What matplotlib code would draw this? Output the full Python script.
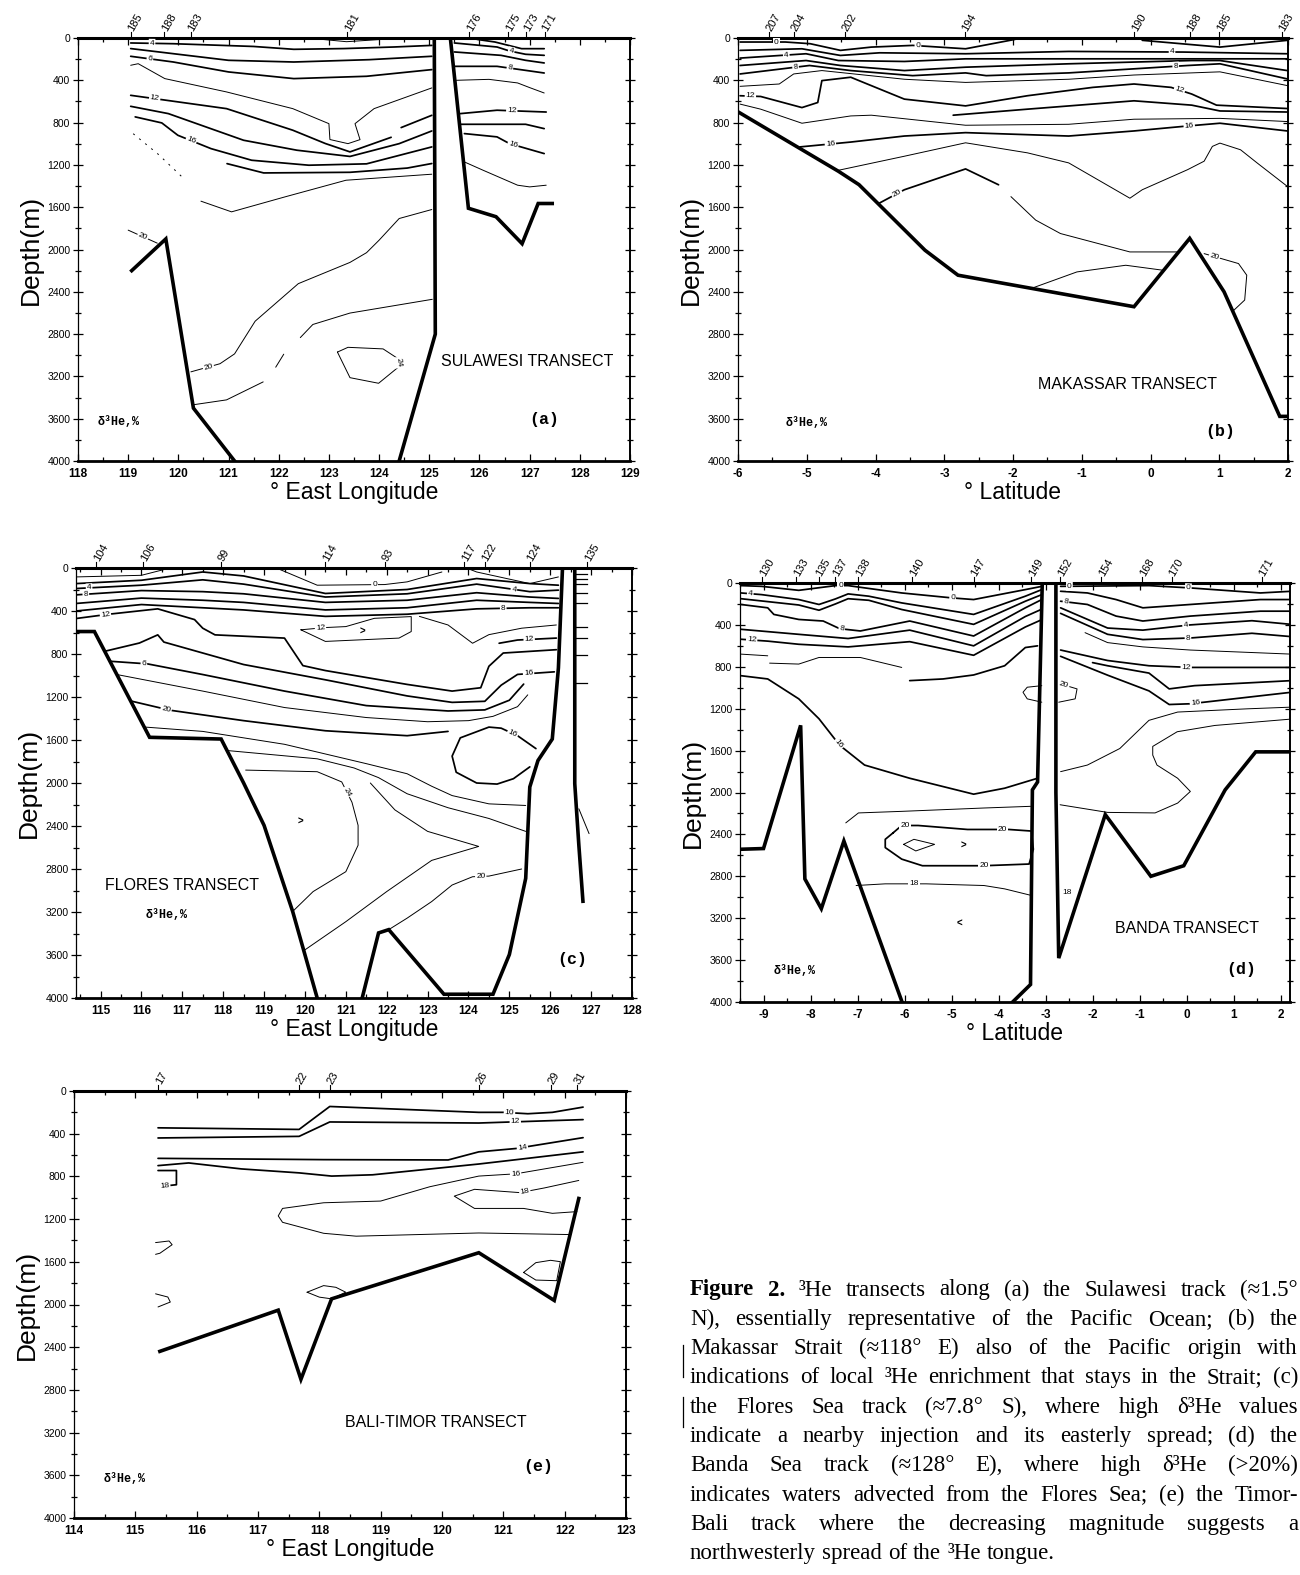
import matplotlib
matplotlib.use("Agg")
import matplotlib.pyplot as plt
import numpy as np
from matplotlib.ticker import MultipleLocator
from matplotlib.lines import Line2D

plt.rcParams['axes.unicode_minus'] = False
plt.rcParams['font.family'] = ['Liberation Sans', 'DejaVu Sans']

# ------------------------------------------------------------------ DATA
# (a) Sulawesi transect  (lon, depth)
a_station_num = [185, 188, 183, 181, 176, 175, 173, 171]
a_station_lon = [119.05, 119.72, 120.25, 123.37, 125.8, 126.57, 126.93, 127.3]
a_bathy = [
    ([119.07, 119.75, 120.3, 121.12], [2200, 1900, 3500, 4000]),
    ([124.4, 125.12, 125.1], [4000, 2800, 0]),
    ([125.42, 125.78, 126.33, 126.85, 127.17, 127.45], [0, 1610, 1690, 1945, 1565, 1565]),
]
a_contours = [
    ("0", [122.75, 123.35, 124.0], [8, 35, 15]),
    ("4", [119.05, 119.9, 121.5, 122.3, 123.3, 124.3, 125.05], [47, 54, 80, 107, 100, 85, 70]),
    ("", [119.05, 121.0, 122.3, 123.8, 125.05], [100, 211, 227, 205, 173]),
    ("6", [119.05, 119.9, 121.0, 122.3, 123.75, 125.05], [173, 227, 321, 384, 362, 299]),
    ("", [119.05, 119.2, 119.73, 120.96, 122.28, 123.0, 123.02, 123.38, 123.62, 123.52, 123.9, 125.05],
     [258, 243, 384, 510, 668, 810, 960, 999, 961, 810, 668, 472]),
    ("12", [119.05, 120.96, 122.28, 122.93, 123.42, 124.24], [542, 668, 872, 998, 1077, 939]),
    ("", [124.44, 125.05], [847, 731]),
    ("", [119.05, 119.8, 121.3, 122.36, 123.42, 124.4, 125.05], [646, 715, 967, 1061, 1120, 999, 879]),
    ("16", [119.14, 119.67, 119.99, 120.65, 121.46, 122.6, 123.75, 125.05], [746, 803, 920, 1046, 1156, 1203, 1190, 1030]),
    ("", [120.97, 121.7, 123.42, 124.56, 125.05], [1188, 1276, 1270, 1230, 1187]),
    ("", [120.45, 121.06, 122.12, 123.34, 125.05], [1543, 1644, 1503, 1345, 1288]),
    ("20", [125.05, 124.4, 124.0, 123.75, 123.42, 122.39, 121.53, 121.12, 120.83, 120.25],
     [1622, 1707, 1912, 2030, 2122, 2323, 2678, 2987, 3080, 3157]),
    ("", [125.06, 123.42, 122.68, 122.43], [2471, 2601, 2709, 2833]),
    ("", [122.1, 121.94], [2990, 3113]),
    ("", [121.69, 120.96, 120.3], [3252, 3422, 3468]),
    ("20", [119.0, 119.58], [1817, 1940]),
    ("24", [123.17, 123.38, 124.08, 124.37, 124.39, 123.99, 123.42, 123.17], [2970, 2925, 2940, 3030, 3110, 3265, 3212, 2970]),
    ("", [125.95, 126.31, 126.84, 127.29], [13, 38, 101, 101]),
    ("4", [125.5, 126.35, 126.6, 126.92, 127.29], [47, 85, 123, 154, 164]),
    ("", [125.5, 126.43, 126.92, 127.29], [132, 164, 211, 236]),
    ("8", [125.5, 126.35, 126.92, 127.29], [268, 268, 306, 331]),
    ("", [125.54, 126.19, 126.76, 127.0, 127.29], [400, 391, 425, 469, 520]),
    ("12", [125.62, 126.35, 127.33], [715, 683, 700]),
    ("", [125.62, 126.92, 127.29], [816, 816, 857]),
    ("16", [125.7, 126.35, 126.6, 127.29], [904, 935, 999, 1093]),
    ("", [125.7, 126.07, 126.76, 127.0, 127.33], [1172, 1250, 1392, 1408, 1392]),
]
a_dashed = ([119.1, 119.6, 119.9, 120.12], [905, 1100, 1235, 1335])

# (b) Makassar transect  (lat, depth)
b_station_num = [207, 204, 202, 194, 190, 188, 185, 183]
b_station_lat = [-5.55, -5.19, -4.45, -2.7, -0.24, 0.57, 1.0, 1.91]
b_bathy = [
    ([-6.0, -4.54, -4.24, -3.28, -2.8, -0.24, 0.57, 1.07, 1.88, 2.0],
     [698, 1260, 1387, 2007, 2243, 2541, 1895, 2400, 3578, 3578]),
]
b_contours = [
    ("0", [-5.97, -5.31, -4.95, -4.51, -4.06, -3.46, -2.69, -1.97], [38, 38, 54, 117, 86, 70, 102, 13]),
    ("", [-0.12, 1.01, 1.99], [22, 86, 22]),
    ("4", [-5.97, -5.07, -4.51, -3.94, -2.69, -1.19, 0.48, 1.99], [117, 102, 165, 140, 149, 127, 133, 149]),
    ("4", [-5.97, -5.01, -4.54, -3.58, -2.69, -1.19, 1.99], [190, 149, 213, 222, 197, 197, 197]),
    ("", [-5.97, -5.01, -4.51, -3.58, -2.69, -1.19, 0.6, 1.01, 1.99], [260, 213, 260, 308, 276, 244, 213, 213, 308]),
    ("8", [-5.97, -4.96, -4.36, -3.46, -2.69, -2.39, -1.19, 0.54, 1.01, 1.99], [340, 260, 308, 356, 330, 356, 330, 260, 244, 387]),
    ("", [-5.97, -5.4, -5.19, -4.78, -3.58, -2.69, -1.19, -0.24, 1.01, 1.99], [457, 435, 340, 308, 390, 420, 390, 350, 320, 450]),
    ("12", [-5.97, -5.67, -5.07, -4.84, -4.78, -4.36, -4.24, -3.58, -2.69, -1.79, -0.84, -0.24, 0.3, 0.6, 0.96, 1.99],
     [546, 553, 658, 610, 403, 371, 403, 578, 642, 546, 467, 435, 467, 530, 635, 667]),
    ("", [-2.87, -1.79, -0.24, 0.6, 1.01, 1.99], [730, 673, 594, 635, 690, 700]),
    ("", [-5.97, -5.67, -5.07, -4.36, -4.06, -2.69, -1.19, -0.24, 1.01, 1.99], [625, 673, 806, 737, 730, 825, 816, 768, 760, 790]),
    ("16", [-5.1, -4.36, -3.58, -2.69, -1.19, -0.24, 0.54, 1.01, 1.99], [1030, 984, 927, 895, 927, 879, 832, 806, 879]),
    ("", [-4.54, -3.58, -2.69, -1.79, -1.19, -0.3, -0.12, 0.54, 0.78, 0.9, 1.01, 1.31, 1.55, 1.99],
     [1251, 1118, 991, 1086, 1181, 1515, 1435, 1245, 1165, 1025, 994, 1057, 1181, 1403]),
    ("20", [-3.94, -3.58, -2.69, -2.21], [1560, 1435, 1238, 1388]),
    ("", [-2.03, -1.67, -1.31, -0.3, 0.39], [1500, 1722, 1849, 2023, 2023]),
    ("20", [0.78, 1.28, 1.4, 1.37, 1.19], [2039, 2133, 2243, 2478, 2588]),
    ("", [-1.7, -1.07, -0.36, 0.18], [2360, 2212, 2149, 2196]),
]

# (c) Flores transect  (lon, depth)
c_station_num = [104, 106, 99, 114, 93, 117, 122, 124, 135]
c_station_lon = [114.9, 116.05, 117.95, 120.5, 121.95, 123.9, 124.4, 125.5, 126.9]
c_bathy = [
    ([114.4, 114.85, 116.2, 117.95, 118.5, 119.0, 119.7, 120.3], [591, 591, 1575, 1591, 2000, 2394, 3195, 4000]),
    ([121.4, 121.8, 122.05, 123.4, 124.6, 125.0, 125.4, 125.5, 125.7, 126.05, 126.2, 126.3],
     [4000, 3395, 3364, 3965, 3965, 3596, 2887, 2037, 1791, 1591, 929, 0]),
    ([126.6, 126.6, 126.7, 126.8], [0, 2006, 2579, 3100]),
]
c_stub_depth = [52, 98, 145, 237, 329, 545, 652, 806, 1068]
c_contours = [
    ("0", [119.3, 120.3, 121.95, 122.5, 123.35], [0, 160, 154, 129, 37]),
    ("", [114.4, 116.0, 116.7], [83, 68, 0]),
    ("", [123.95, 124.2, 125.5, 126.2], [0, 37, 145, 83]),
    ("", [114.4, 116.0, 117.5, 118.5, 120.5, 122.5, 124.2, 125.5, 126.2], [145, 114, 37, 74, 237, 200, 98, 145, 160]),
    ("4", [114.4, 116.0, 117.5, 118.5, 120.5, 122.5, 124.2, 125.5, 126.2], [191, 160, 110, 150, 270, 240, 150, 220, 206]),
    ("8", [114.4, 116.0, 117.5, 118.5, 120.5, 122.5, 124.2, 125.5, 126.2], [250, 210, 220, 240, 320, 300, 230, 270, 283]),
    ("", [114.4, 116.0, 117.5, 118.5, 120.5, 122.5, 124.2, 125.5, 126.2], [330, 280, 300, 320, 390, 370, 300, 320, 330]),
    ("8", [114.4, 116.0, 117.5, 118.5, 120.5, 122.5, 124.2, 125.5, 126.2], [400, 340, 370, 390, 450, 430, 380, 370, 370]),
    ("12", [114.4, 115.2, 116.4, 117.3, 117.5, 117.8, 119.5, 119.95, 120.5, 122.5, 123.6, 124.3, 124.5, 124.85, 126.15],
     [470, 430, 380, 480, 560, 622, 652, 908, 954, 1083, 1145, 1114, 914, 791, 760]),
    ("", [122.8, 123.5, 124.1, 124.5, 125.3, 126.15], [450, 530, 700, 620, 560, 530]),
    ("12", [124.75, 125.2, 126.15], [700, 670, 652]),
    ("12", [119.9, 120.5, 121.0, 121.7, 122.6, 122.6, 122.3, 120.5, 119.9], [575, 554, 545, 468, 452, 591, 652, 683, 575]),
    ("16", [115.1, 115.95, 116.4, 116.55, 118.5, 120.5, 122.5, 123.6, 124.4, 124.8, 125.2, 126.1],
     [775, 698, 622, 689, 898, 1040, 1190, 1250, 1240, 1090, 990, 966]),
    ("6", [115.25, 116.15, 117.5, 119.5, 121.5, 123.5, 124.4, 125.0, 125.35], [868, 892, 991, 1145, 1280, 1330, 1320, 1230, 1080]),
    ("", [115.4, 117.5, 119.5, 121.5, 123.0, 124.0, 124.6, 125.2, 125.45], [991, 1145, 1298, 1391, 1430, 1420, 1380, 1290, 1180]),
    ("20", [115.74, 116.7, 118.5, 120.5, 122.5, 123.5], [1237, 1323, 1420, 1514, 1560, 1520]),
    ("", [116.1, 117.5, 119.5, 121.5, 122.5, 123.1, 123.6, 124.5, 125.4], [1480, 1520, 1640, 1820, 1914, 2030, 2117, 2194, 2209]),
    ("16", [125.65, 125.2, 124.8, 124.5, 123.8, 123.6, 123.7, 124.2, 124.7, 125.1, 125.5],
     [1680, 1560, 1490, 1480, 1580, 1750, 1900, 2000, 2010, 1960, 1850]),
    ("", [118.1, 120.3, 121.2, 121.8, 122.5, 123.5, 124.5, 125.4], [1698, 1775, 1860, 1950, 2100, 2230, 2330, 2450]),
    ("24", [118.55, 120.3, 120.9, 121.15, 121.3, 121.3, 121.0, 120.2, 119.7], [1880, 1895, 1990, 2179, 2394, 2579, 2825, 3010, 3195]),
    ("", [121.6, 122.2, 123.0, 124.25, 123.1, 122.0, 121.0, 119.97], [2000, 2250, 2450, 2590, 2720, 3010, 3290, 3560]),
    ("20", [122.05, 122.5, 123.1, 123.6, 124.1, 124.5, 125.3], [3364, 3257, 3103, 2949, 2872, 2866, 2800]),
    ("", [126.7, 126.95], [2240, 2471]),
]

# (d) Banda transect  (lat, depth)
d_station_num = [130, 133, 135, 137, 138, 140, 147, 149, 152, 154, 168, 170, 171]
d_station_lat = [-9.03, -8.3, -7.82, -7.47, -6.98, -5.84, -4.53, -3.3, -2.69, -1.81, -0.94, -0.32, 1.6]
d_bathy = [
    ([-9.5, -9.0, -8.21, -8.12, -7.77, -7.29, -6.06], [2542, 2535, 1359, 2825, 3109, 2463, 3991]),
    ([-3.7, -3.32, -3.28, -3.17, -3.07], [4000, 3833, 1975, 1900, 0]),
    ([-2.78, -2.78, -2.72, -1.73, -0.76, -0.06, 0.82, 1.47, 2.23], [0, 2000, 3581, 2211, 2800, 2699, 1975, 1612, 1612]),
]
d_contours = [
    ("0", [-9.48, -9.04, -8.25, -7.47, -7.2, -6.06, -5.0, -4.53, -3.43, -3.08], [25, 32, 70, 25, 25, 95, 142, 158, 63, 32]),
    ("4", [-9.48, -9.04, -8.25, -7.82, -7.47, -7.2, -6.76, -6.06, -4.53, -3.43, -3.08], [95, 111, 158, 205, 152, 104, 126, 190, 300, 126, 63]),
    ("", [-9.48, -8.25, -7.82, -7.47, -7.2, -6.76, -6.06, -4.53, -3.43, -3.08], [150, 210, 260, 200, 150, 165, 253, 395, 174, 111]),
    ("8", [-9.48, -8.91, -8.78, -8.25, -7.73, -7.38, -6.94, -5.89, -4.53, -3.43, -3.08], [205, 237, 300, 348, 363, 436, 458, 363, 506, 237, 158]),
    ("", [-9.48, -8.25, -7.2, -5.89, -4.53, -3.43, -3.08], [442, 490, 530, 450, 600, 320, 250]),
    ("12", [-9.48, -8.91, -8.25, -7.2, -5.89, -4.53, -3.43, -3.08], [537, 555, 585, 610, 560, 690, 420, 350]),
    ("", [-9.48, -8.91], [679, 695]),
    ("", [-8.87, -8.25, -7.82, -6.94, -6.06], [765, 774, 711, 711, 806]),
    ("", [-5.89, -5.18, -4.53, -3.87, -3.43, -3.17], [932, 916, 878, 790, 616, 600]),
    ("16", [-9.48, -8.91, -8.25, -7.82, -7.38, -6.85, -5.89, -4.53, -3.87, -3.17], [885, 916, 1106, 1296, 1549, 1738, 1864, 2016, 1959, 1864]),
    ("", [-3.08, -3.39, -3.48, -3.39, -3.08], [980, 995, 1043, 1106, 1138]),
    ("20", [-2.68, -2.33, -2.37, -2.72], [964, 1011, 1106, 1138]),
    ("", [-7.25, -6.98, -6.06, -4.31, -3.32], [2290, 2195, 2180, 2148, 2132]),
    ("", [2.2, 0.6, -0.2, -0.72, -0.72, -0.63, -0.19, 0.08, -0.19, -0.67, -1.68, -2.69],
     [1300, 1360, 1420, 1560, 1643, 1738, 1864, 1990, 2101, 2195, 2190, 2117]),
    ("20", [-6.24, -6.06, -5.71, -4.66, -3.78, -3.3, -3.26, -3.35, -4.31, -5.62, -6.06, -6.41, -6.41, -6.24],
     [2384, 2315, 2315, 2353, 2353, 2368, 2542, 2683, 2699, 2699, 2636, 2526, 2447, 2384]),
    ("", [-6.02, -5.8, -5.36, -5.76, -6.02], [2495, 2447, 2495, 2558, 2495]),
    ("18", [-7.03, -6.41, -5.54, -4.31, -3.87, -3.3], [2888, 2872, 2872, 2888, 2920, 2983]),
    ("0", [-2.68, -0.8, 0.08, 1.57, 2.23], [32, 25, 47, 95, 79]),
    ("", [-2.68, -2.11, -1.5, -0.93, 0.08, 1.57, 2.23], [79, 95, 158, 237, 205, 158, 158]),
    ("8", [-2.68, -2.11, -1.5, -0.93, 0.08, 1.57, 2.23], [174, 205, 316, 363, 316, 269, 269]),
    ("4", [-2.68, -1.68, -0.93, 0.08, 1.39, 2.23], [237, 430, 450, 400, 360, 395]),
    ("8", [-2.68, -1.68, -0.93, 0.08, 1.39, 2.23], [290, 490, 540, 525, 480, 512]),
    ("", [-2.16, -1.68, -0.93, 0.08, 2.23], [474, 569, 610, 640, 679]),
    ("12", [-2.68, -1.68, -0.8, 0.08, 2.23], [640, 740, 790, 806, 806]),
    ("", [-2.0, -1.68, -0.8, -0.37, 0.17, 2.23], [760, 790, 860, 1011, 980, 932]),
    ("16", [-2.68, -1.68, -0.8, -0.37, 0.08, 2.23], [700, 880, 1030, 1160, 1153, 1043]),
    ("", [-2.68, -2.11, -1.42, -0.8, -0.19, 1.3, 2.23], [1801, 1738, 1580, 1311, 1232, 1201, 1185]),
]

# (e) Bali-Timor transect  (lon, depth)
e_station_num = [17, 22, 23, 26, 29, 31]
e_station_lon = [115.37, 117.67, 118.17, 120.6, 121.77, 122.2]
e_bathy = [
    ([115.4, 117.33, 117.7, 118.2, 120.6, 121.83, 122.23], [2439, 2053, 2701, 1947, 1515, 1962, 1007]),
]
e_contours = [
    ("10", [115.37, 117.67, 118.17, 120.6, 121.0, 121.4, 121.8, 122.3], [345, 360, 145, 200, 200, 213, 200, 151]),
    ("12", [115.37, 117.67, 118.17, 120.6, 122.3], [440, 425, 290, 300, 268]),
    ("14", [115.37, 118.07, 120.1, 120.6, 121.2, 122.3], [631, 643, 646, 570, 539, 437]),
    ("", [115.37, 115.87, 116.73, 117.67, 118.2, 118.87, 120.6, 121.2, 122.3], [699, 674, 730, 767, 797, 785, 684, 644, 570]),
    ("16", [122.3, 121.2, 120.6, 119.8, 119.0, 118.07, 117.4, 117.33, 117.4, 118.07, 118.6, 120.6, 122.1],
     [668, 776, 797, 897, 1031, 1047, 1100, 1170, 1230, 1333, 1360, 1330, 1345]),
    ("18", [122.23, 121.67, 121.27, 120.53, 120.2, 120.53, 121.33, 121.8, 122.2], [838, 908, 952, 921, 985, 1100, 1100, 1146, 1130]),
    ("18", [115.37, 115.67, 115.67, 115.47], [745, 745, 878, 890]),
    ("", [115.33, 115.55, 115.6, 115.4, 115.33], [1420, 1405, 1440, 1520, 1530]),
    ("", [115.33, 115.53, 115.57, 115.37], [1900, 1930, 1977, 2023]),
    ("", [117.8, 118.07, 118.27, 118.43, 118.2, 118.0, 117.8], [1885, 1823, 1839, 1885, 1947, 1931, 1885]),
    ("", [121.33, 121.53, 121.77, 121.93, 121.87, 121.53, 121.33], [1700, 1608, 1586, 1599, 1777, 1771, 1700]),
]

# ------------------------------------------------------------------ STYLE
W, H = 1300, 1575
fig = plt.figure(figsize=(W / 100, H / 100), dpi=100)

def fbox(l, r, t, b):
    return [l / W, 1 - b / H, (r - l) / W, (b - t) / H]

def make_panel(box, xlim, xlabel):
    ax = fig.add_axes(fbox(*box))
    ax.set_xlim(*xlim)
    ax.set_ylim(4000, 0)
    ax.xaxis.set_major_locator(MultipleLocator(1))
    ax.xaxis.set_minor_locator(MultipleLocator(0.5))
    ax.yaxis.set_major_locator(MultipleLocator(400))
    ax.yaxis.set_minor_locator(MultipleLocator(200))
    ax.tick_params(axis='x', which='both', direction='in', top=True, bottom=True, width=0.9)
    ax.tick_params(axis='x', which='major', length=5, labelsize=8.5, pad=5)
    ax.tick_params(axis='x', which='minor', length=3)
    ax.tick_params(axis='y', which='both', direction='inout', left=True, right=True, width=0.9)
    ax.tick_params(axis='y', which='major', length=7, labelsize=7.5, pad=2)
    ax.tick_params(axis='y', which='minor', length=4)
    for lab in ax.get_xticklabels():
        lab.set_fontweight('bold')
    ax.spines['top'].set_linewidth(2.2)
    ax.spines['bottom'].set_linewidth(2.0)
    ax.spines['left'].set_linewidth(0.9)
    ax.spines['right'].set_linewidth(1.4)
    ax.set_ylabel('Depth(m)', fontsize=19, labelpad=3)
    ax.set_xlabel(xlabel, fontsize=16.5, labelpad=1)
    return ax

def stations(ax, nums, pos):
    tr = ax.get_xaxis_transform()
    for n, x in zip(nums, pos):
        ax.plot([x, x], [1.0, 1.014], transform=tr, color='k', lw=0.8, clip_on=False)
        ax.text(x, 1.018, str(n), transform=tr, rotation=60, rotation_mode='anchor',
                ha='left', va='center', fontsize=8)

def draw(ax, contours, thin, labels, bathy):
    for i, (val, xs, zs) in enumerate(contours):
        lw = 0.7 if i in thin else 1.25
        ax.plot(xs, zs, color='k', lw=lw, solid_joinstyle='round', solid_capstyle='round', zorder=2)
        for (k, t) in labels.get(i, []):
            x = xs[k] + t * (xs[k + 1] - xs[k])
            z = zs[k] + t * (zs[k + 1] - zs[k])
            p1 = ax.transData.transform((xs[k], zs[k]))
            p2 = ax.transData.transform((xs[k + 1], zs[k + 1]))
            ang = np.degrees(np.arctan2(p2[1] - p1[1], p2[0] - p1[0]))
            if ang > 90:
                ang -= 180
            if ang < -90:
                ang += 180
            ax.text(x, z, val, fontsize=6, rotation=ang, rotation_mode='anchor', ha='center',
                    va='center', zorder=3,
                    bbox=dict(boxstyle='square,pad=0.12', fc='white', ec='none'))
    for xs, zs in bathy:
        ax.plot(xs, zs, color='k', lw=2.6, solid_joinstyle='miter', zorder=4)

def panel_text(ax, title, tpos, tag, gpos, dpos):
    ax.text(*tpos, title, ha='center', va='center', fontsize=11.5,
            family=['Liberation Sans Narrow', 'Liberation Sans'])
    ax.text(*gpos, tag, ha='center', va='center', fontsize=12, family='Liberation Mono', fontweight='bold')
    ax.text(*dpos, 'δ³He,%', ha='left', va='center', fontsize=8.5, family='Liberation Mono', fontweight='bold')

# ---------------- (a)
ax = make_panel((78, 630, 38, 461), (118, 129), '° East Longitude')
draw(ax, a_contours, {0, 4, 10, 11, 12, 13, 14, 15, 16, 21, 25},
     {1: [(0, .5)], 3: [(0, .45)], 5: [(0, .25)], 8: [(2, .4)], 11: [(8, .4)], 15: [(0, .5)],
      16: [(3, .5)], 18: [(2, .1)], 20: [(1, .45)], 22: [(1, .3)], 24: [(2, .1)]}, a_bathy)
ax.plot(*a_dashed, color='k', lw=0.7, ls=(0, (2, 6)))
stations(ax, a_station_num, a_station_lon)
panel_text(ax, 'SULAWESI TRANSECT', (126.95, 3060), '(a)', (127.3, 3605), (118.4, 3630))

# ---------------- (b)
ax = make_panel((738, 1288, 38, 461), (-6, 2), '° Latitude')
draw(ax, b_contours, {6, 9, 11, 13, 14, 15},
     {0: [(0, .8), (5, .1)], 2: [(5, .9)], 3: [(0, .7)], 5: [(0, .8), (6, .9)],
      7: [(0, .5), (12, .4)], 10: [(0, .6), (6, .05)], 12: [(0, .7)], 14: [(0, .3)]}, b_bathy)
stations(ax, b_station_num, b_station_lat)
panel_text(ax, 'MAKASSAR TRANSECT', (-0.33, 3280), '(b)', (1.01, 3719), (-5.31, 3640))

# ---------------- (c)
ax = make_panel((76, 632, 568, 998), (114.4, 128), '° East Longitude')
draw(ax, c_contours, {0, 1, 2, 9, 11, 14, 16, 18, 19, 20, 21, 22},
     {0: [(1, .85)], 4: [(0, .2), (6, .7)], 5: [(0, .15)], 7: [(6, .5)], 8: [(0, .9)],
      10: [(1, .3)], 11: [(0, .8)], 12: [(10, .3)], 13: [(0, .9)], 15: [(0, .9)],
      17: [(1, .3)], 19: [(2, .5)], 21: [(4, .5)]}, c_bathy)
for dz in c_stub_depth:
    ax.plot([126.62, 126.9], [dz, dz], color='k', lw=0.9)
stations(ax, c_station_num, c_station_lon)
ax.text(119.9, 2357, '>', fontsize=7, ha='center', va='center', fontweight='bold')
ax.text(121.4, 591, '>', fontsize=7, ha='center', va='center', fontweight='bold')
panel_text(ax, 'FLORES TRANSECT', (117.0, 2955), '(c)', (126.55, 3640), (116.1, 3226))

# ---------------- (d)
ax = make_panel((740, 1290, 583, 1002), (-9.5, 2.2), '° Latitude')
draw(ax, d_contours, {6, 7, 10, 11, 12, 13, 15, 16, 22, 26},
     {0: [(3, .4), (6, .05)], 1: [(0, .45)], 3: [(5, .1)], 5: [(0, .4)], 9: [(3, .95)],
      11: [(0, .2)], 14: [(1, .2), (3, .85), (8, .0)], 16: [(1, .7)], 17: [(0, .1), (1, .95)],
      19: [(0, .2)], 20: [(2, .9)], 21: [(2, .95)], 23: [(2, .9)], 25: [(4, .05)]}, d_bathy)
stations(ax, d_station_num, d_station_lat)
ax.text(-4.75, 2510, '>', fontsize=7, ha='center', va='center', fontweight='bold')
ax.text(-4.84, 3250, '<', fontsize=7, ha='center', va='center', fontweight='bold')
ax.text(-2.55, 2951, '18', fontsize=6, ha='center', va='center')
panel_text(ax, 'BANDA TRANSECT', (0.0, 3300), '(d)', (1.17, 3690), (-8.78, 3707))

# ---------------- (e)
ax = make_panel((74, 626, 1091, 1518), (114, 123), '° East Longitude')
draw(ax, e_contours, {4, 5, 7, 8, 9, 10},
     {0: [(4, .25)], 1: [(3, .35)], 2: [(4, .1)], 4: [(1, .0)], 5: [(1, .8)], 6: [(2, .95)]}, e_bathy)
stations(ax, e_station_num, e_station_lon)
panel_text(ax, 'BALI-TIMOR TRANSECT', (119.9, 3103), '(e)', (121.57, 3520), (114.48, 3630))

# ------------------------------------------------------------------ CAPTION
caption = [
    "Figure 2. ³He transects along (a) the Sulawesi track (≈1.5°",
    "N), essentially representative of the Pacific Ocean; (b) the",
    "Makassar Strait (≈118° E) also of the Pacific origin with",
    "indications of local ³He enrichment that stays in the Strait; (c)",
    "the Flores Sea track (≈7.8° S), where high δ³He values",
    "indicate a nearby injection and its easterly spread; (d) the",
    "Banda Sea track (≈128° E), where high δ³He (>20%)",
    "indicates waters advected from the Flores Sea; (e) the Timor-",
    "Bali track where the decreasing magnitude suggests a",
    "northwesterly spread of the ³He tongue.",
]
renderer = fig.canvas.get_renderer()
x_left, x_right = 690, 1298
for i, line in enumerate(caption):
    y = 1 - (1290 + 29.3 * i) / H
    words = line.split(' ')
    objs = []
    for j, w in enumerate(words):
        bold = (i == 0 and j < 2)
        t = fig.text(0, y, w, fontsize=16.5, family='Liberation Serif', va='center', ha='left',
                     fontweight='bold' if bold else 'normal')
        objs.append(t)
    widths = [o.get_window_extent(renderer).width for o in objs]
    if i < len(caption) - 1:
        gap = (x_right - x_left - sum(widths)) / (len(words) - 1)
        gap = max(gap, 3)
    else:
        gap = 6
    x = x_left
    for o, wdt in zip(objs, widths):
        o.set_x(x / W)
        x += wdt + gap

for (y0, y1) in [(1345, 1377), (1397, 1427)]:
    fig.add_artist(Line2D([683 / W, 683 / W], [1 - y0 / H, 1 - y1 / H], color='k', lw=0.9))

fig.savefig('out.png', dpi=100)
